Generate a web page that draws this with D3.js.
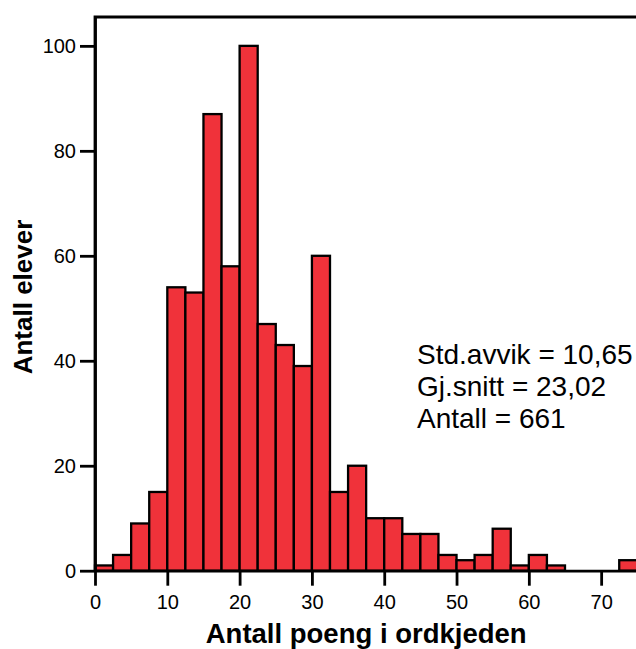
<!DOCTYPE html>
<html>
<head>
<meta charset="utf-8">
<script src="https://cdn.jsdelivr.net/npm/d3@7/dist/d3.min.js"></script>
<style>
html,body{margin:0;padding:0;background:#fff;}
svg{display:block;font-family:"Liberation Sans",Arial,sans-serif;}
</style>
</head>
<body>
<svg id="chart" width="636" height="649"></svg>
<script>
// Bin lower edges (width 2.5) and counts
const binStarts = [0,2.5,5,7.5,10,12.5,15,17.5,20,22.5,25,27.5,30,32.5,35,37.5,40,42.5,45,47.5,50,52.5,55,57.5,60,62.5,65,67.5,70,72.5];
const counts    = [1,3,9,15,54,53,87,58,100,47,43,39,60,15,20,10,10,7,7,3,2,3,8,1,3,1,0,0,0,2];
const binWidth = 2.5;
const xTicks = [0,10,20,30,40,50,60,70];
const yTicks = [0,20,40,60,80,100];
const statLines = ["Std.avvik = 10,65","Gj.snitt = 23,02","Antall = 661"];
const xTitle = "Antall poeng i ordkjeden";
const yTitle = "Antall elever";

const svg = d3.select("#chart");
const pLeft = 95, pRight = 637.3, pTop = 17, pBottom = 570.7;
const x = d3.scaleLinear().domain([0,75]).range([pLeft,pRight]);
const y = d3.scaleLinear().domain([0,105.5]).range([pBottom,pTop]);

// bars
svg.append("g").selectAll("rect")
  .data(binStarts.map((s,i)=>({s, c:counts[i]})).filter(d=>d.c>0))
  .join("rect")
  .attr("x", d=>x(d.s))
  .attr("y", d=>y(d.c))
  .attr("width", d=>x(d.s+binWidth)-x(d.s))
  .attr("height", d=>y(0)-y(d.c))
  .attr("fill","#f0323a")
  .attr("stroke","#000")
  .attr("stroke-width",2.3);

// frame
svg.append("path")
  .attr("d", `M${pLeft},${pBottom}V${pTop}H${pRight+2}`)
  .attr("fill","none").attr("stroke","#000").attr("stroke-width",2.8);

// axes
const xAxis = svg.append("g").attr("transform",`translate(0,${pBottom})`)
  .call(d3.axisBottom(x).tickValues(xTicks).tickSize(15).tickSizeOuter(0).tickPadding(8).tickFormat(d3.format("d")));
const yAxis = svg.append("g").attr("transform",`translate(${pLeft},0)`)
  .call(d3.axisLeft(y).tickValues(yTicks).tickSize(15).tickSizeOuter(0).tickPadding(4).tickFormat(d3.format("d")));
[xAxis,yAxis].forEach(g=>{
  g.select(".domain").attr("stroke","#000").attr("stroke-width",2.8);
  g.selectAll(".tick line").attr("stroke","#000").attr("stroke-width",2.8);
  g.selectAll(".tick text").attr("font-size",20).attr("fill","#000")
    .attr("font-family","'Liberation Sans',Arial,sans-serif");
});
xAxis.selectAll(".tick text").attr("dy","0.78em");

// stats text
svg.append("g").selectAll("text").data(statLines).join("text")
  .attr("x",417).attr("y",(d,i)=>364+i*32)
  .attr("font-size",28).attr("fill","#000").text(d=>d);

// titles
svg.append("text").attr("x",(pLeft+pRight)/2).attr("y",643)
  .attr("text-anchor","middle").attr("font-size",27.5).attr("font-weight","bold").text(xTitle);
svg.append("text").attr("transform",`translate(32,297) rotate(-90)`)
  .attr("text-anchor","middle").attr("font-size",26).attr("font-weight","bold").text(yTitle);
</script>
</body>
</html>
